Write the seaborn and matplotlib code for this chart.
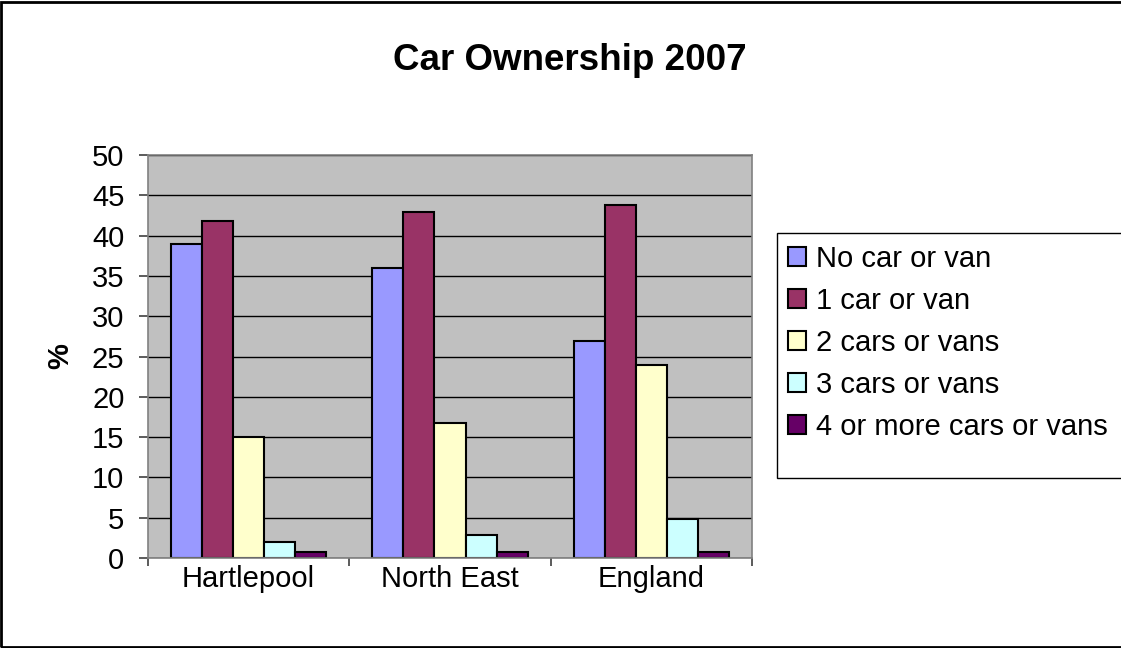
import matplotlib
matplotlib.use("Agg")
import matplotlib.pyplot as plt
import seaborn as sns
import pandas as pd
from matplotlib.patches import Rectangle, Patch

# Data
areas = ["Hartlepool", "North East", "England"]
groups = ["No car or van", "1 car or van", "2 cars or vans", "3 cars or vans", "4 or more cars or vans"]
hartlepool = [38.9, 41.8, 15.0, 2.0, 0.8]
north_east = [36.0, 42.9, 16.8, 2.9, 0.8]
england = [26.9, 43.8, 24.0, 4.8, 0.8]
colors = ["#9999FF", "#993366", "#FFFFCC", "#CCFFFF", "#660066"]

rows = []
for area, vals in zip(areas, [hartlepool, north_east, england]):
    for g, v in zip(groups, vals):
        rows.append({"area": area, "group": g, "pct": v})
df = pd.DataFrame(rows)

sns.set_style("white")
plt.rcParams['font.family'] = ['Liberation Sans', 'DejaVu Sans']
plt.rcParams.update({"text.color": "black", "axes.labelcolor": "black",
                     "xtick.color": "black", "ytick.color": "black"})

W, H = 1121, 648
fig = plt.figure(figsize=(W / 100, H / 100), dpi=100)
ax = fig.add_axes([148 / W, 1 - 558 / H, (752 - 148) / W, (558 - 155) / H])

sns.barplot(data=df, x="area", y="pct", hue="group", hue_order=groups,
            palette=colors, edgecolor="black", linewidth=1.5, width=0.77,
            saturation=1, ax=ax, legend=False)

ax.set_facecolor("#C0C0C0")
ax.set_ylim(0, 50)
ax.set_xlim(-0.5, 2.5)
ax.set_yticks(range(0, 51, 5))
ax.yaxis.grid(True, color="black", linewidth=1)
ax.set_axisbelow(True)
for s in ax.spines.values():
    s.set_color("#808080")
    s.set_linewidth(1.2)
ax.tick_params(axis="y", labelsize=21, length=6.5, width=1.2, color="#404040",
               direction="out", left=True, pad=10.5)
ax.tick_params(axis="x", labelsize=21, length=0, pad=5)
ax.set_xticks([-0.5, 0.5, 1.5, 2.5], minor=True)
ax.tick_params(axis="x", which="minor", length=6, width=1.2, direction="out",
               bottom=True, color="#404040")
ax.set_xlabel("")
ax.set_ylabel("%", fontsize=21, fontweight="bold")
ax.yaxis.set_label_coords((60 - 148) / 604, 0.5)
ax.yaxis.label.set_verticalalignment("center")

fig.text(570 / W, 1 - 70 / H, "Car Ownership 2007", ha="center", va="baseline",
         fontsize=26.5, fontweight="bold")

# legend box drawn separately (Excel leaves extra room at the bottom)
fig.patches.append(Rectangle((777 / W, 1 - 478 / H), 0.5, (478 - 233) / H,
                             transform=fig.transFigure, facecolor="white",
                             edgecolor="black", linewidth=1, zorder=1))
handles = [Patch(facecolor=c, edgecolor="black", linewidth=1.5) for c in colors]
leg = fig.legend(handles, groups, loc="upper left",
                 bbox_to_anchor=(788 / W, 1 - 245 / H),
                 fontsize=21, frameon=False,
                 handlelength=0.62, handleheight=0.62, handletextpad=0.34,
                 labelspacing=0.48, borderpad=0, borderaxespad=0)
leg.set_zorder(2)

fig.patches.append(Rectangle((0.001, 0.002), 1.2, 0.995, transform=fig.transFigure,
                             fill=False, edgecolor="black", linewidth=2))

fig.savefig("out.png", dpi=100)
